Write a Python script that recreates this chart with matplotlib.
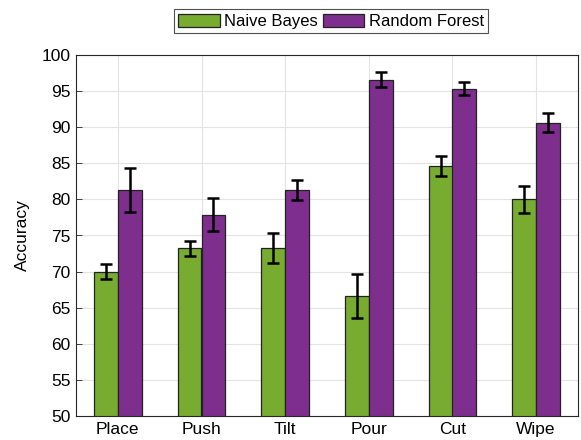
import matplotlib
matplotlib.use("Agg")
import matplotlib.pyplot as plt
import numpy as np

plt.rcParams['font.family'] = ['Liberation Sans', 'DejaVu Sans']

categories = ["Place", "Push", "Tilt", "Pour", "Cut", "Wipe"]
nb_vals = [70.0, 73.2, 73.3, 66.6, 84.6, 80.0]
nb_err = [1.05, 1.1, 2.1, 3.0, 1.35, 1.85]
rf_vals = [81.3, 77.9, 81.3, 96.6, 95.3, 90.6]
rf_err = [3.1, 2.3, 1.4, 1.1, 0.9, 1.3]
series_names = ["Naive Bayes", "Random Forest"]
yticks = list(range(50, 101, 5))

fig = plt.figure(figsize=(5.81, 4.40), dpi=100)
ax = fig.add_axes([76/581, 1-416/440, 502/581, 361/440])

x = np.arange(1, len(categories) + 1)
w = 0.285
ax.set_axisbelow(True)
ax.grid(True, color='#e3e3e3', linewidth=0.8)
ax.bar(x - w/2, nb_vals, w, color='#77AC30', edgecolor='#222222', linewidth=0.9,
       label=series_names[0], zorder=2)
ax.bar(x + w/2, rf_vals, w, color='#7E2F8E', edgecolor='#222222', linewidth=0.9,
       label=series_names[1], zorder=2)
ax.errorbar(x - w/2, nb_vals, yerr=nb_err, fmt='none', ecolor='black',
            elinewidth=1.8, capsize=4, capthick=1.8, zorder=3)
ax.errorbar(x + w/2, rf_vals, yerr=rf_err, fmt='none', ecolor='black',
            elinewidth=1.8, capsize=4, capthick=1.8, zorder=3)

ax.set_xlim(0.5, 6.5)
ax.set_ylim(50, 100)
ax.set_xticks(x)
ax.set_xticklabels(categories, fontsize=12.5)
ax.set_yticks(yticks)
ax.set_yticklabels([str(t) for t in yticks], fontsize=12.5)
ax.set_ylabel("Accuracy", fontsize=12.5, labelpad=8)
ax.tick_params(direction='in', length=4, width=0.6, color='#262626', pad=4)
for s in ax.spines.values():
    s.set_linewidth(0.8)
    s.set_color('#262626')

leg = ax.legend(loc='lower center', bbox_to_anchor=(0.508, 1.06), ncol=2,
                fontsize=12, frameon=True, fancybox=False, edgecolor='#262626',
                handlelength=2.5, handleheight=0.9, handletextpad=0.25,
                columnspacing=0.3, borderpad=0.25, borderaxespad=0)
leg.get_frame().set_linewidth(0.8)

fig.savefig("out.png", dpi=100)
